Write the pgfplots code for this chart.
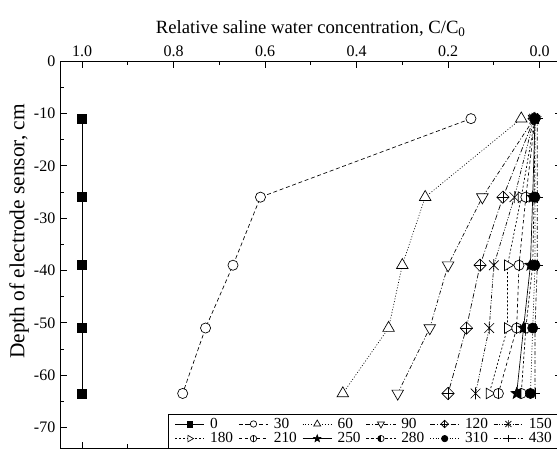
\documentclass[border=0pt]{standalone}
\usepackage{fontspec}
\setmainfont{Liberation Serif}
\usepackage{pgfplots}
\pgfplotsset{compat=1.18}
\usetikzlibrary{plotmarks}

% diamond with a cross inside
\pgfdeclareplotmark{dplus}{%
  \pgfpathmoveto{\pgfqpoint{0pt}{\pgfplotmarksize}}%
  \pgfpathlineto{\pgfqpoint{\pgfplotmarksize}{0pt}}%
  \pgfpathlineto{\pgfqpoint{0pt}{-\pgfplotmarksize}}%
  \pgfpathlineto{\pgfqpoint{-\pgfplotmarksize}{0pt}}%
  \pgfpathclose\pgfusepathqfillstroke
  \pgfpathmoveto{\pgfqpoint{0pt}{\pgfplotmarksize}}%
  \pgfpathlineto{\pgfqpoint{0pt}{-\pgfplotmarksize}}%
  \pgfpathmoveto{\pgfqpoint{\pgfplotmarksize}{0pt}}%
  \pgfpathlineto{\pgfqpoint{-\pgfplotmarksize}{0pt}}%
  \pgfusepathqstroke}
% X with a vertical bar
\pgfdeclareplotmark{xbar}{%
  \pgfpathmoveto{\pgfqpoint{-0.8\pgfplotmarksize}{-0.8\pgfplotmarksize}}%
  \pgfpathlineto{\pgfqpoint{0.8\pgfplotmarksize}{0.8\pgfplotmarksize}}%
  \pgfpathmoveto{\pgfqpoint{-0.8\pgfplotmarksize}{0.8\pgfplotmarksize}}%
  \pgfpathlineto{\pgfqpoint{0.8\pgfplotmarksize}{-0.8\pgfplotmarksize}}%
  \pgfpathmoveto{\pgfqpoint{0pt}{-\pgfplotmarksize}}%
  \pgfpathlineto{\pgfqpoint{0pt}{\pgfplotmarksize}}%
  \pgfusepathqstroke}
% circle with a vertical bar
\pgfdeclareplotmark{ophi}{%
  \pgfpathcircle{\pgfpointorigin}{\pgfplotmarksize}%
  \pgfusepathqfillstroke
  \pgfpathmoveto{\pgfqpoint{0pt}{-1.15\pgfplotmarksize}}%
  \pgfpathlineto{\pgfqpoint{0pt}{1.15\pgfplotmarksize}}%
  \pgfusepathqstroke}
% circle with the left half filled
\pgfdeclareplotmark{lhalf}{%
  \pgfpathcircle{\pgfpointorigin}{\pgfplotmarksize}%
  \pgfusepathqfillstroke
  \pgfscope
  \pgfsetfillcolor{black}%
  \pgfpathmoveto{\pgfqpoint{0pt}{\pgfplotmarksize}}%
  \pgfpatharc{90}{270}{\pgfplotmarksize}%
  \pgfpathclose\pgfusepathqfill
  \endpgfscope}
% filled five-pointed star
\pgfdeclareplotmark{fstar}{%
  \pgfpathmoveto{\pgfqpointpolar{90}{\pgfplotmarksize}}%
  \pgfpathlineto{\pgfqpointpolar{126}{0.42\pgfplotmarksize}}%
  \pgfpathlineto{\pgfqpointpolar{162}{\pgfplotmarksize}}%
  \pgfpathlineto{\pgfqpointpolar{198}{0.42\pgfplotmarksize}}%
  \pgfpathlineto{\pgfqpointpolar{234}{\pgfplotmarksize}}%
  \pgfpathlineto{\pgfqpointpolar{270}{0.42\pgfplotmarksize}}%
  \pgfpathlineto{\pgfqpointpolar{306}{\pgfplotmarksize}}%
  \pgfpathlineto{\pgfqpointpolar{342}{0.42\pgfplotmarksize}}%
  \pgfpathlineto{\pgfqpointpolar{18}{\pgfplotmarksize}}%
  \pgfpathlineto{\pgfqpointpolar{54}{0.42\pgfplotmarksize}}%
  \pgfpathclose\pgfusepathqfillstroke}

\pgfplotsset{
  s0/.style={solid, mark=square*, mark options={solid, fill=black}},
  s30/.style={dash pattern=on 3pt off 2pt, mark=*, mark options={solid, fill=white}},
  s60/.style={dash pattern=on 0.7pt off 1.4pt, mark=triangle*, mark options={solid, fill=white}},
  s90/.style={dash pattern=on 3pt off 1.5pt on 0.7pt off 1.5pt, mark=triangle*, mark options={solid, fill=white, rotate=180}},
  s120/.style={dash pattern=on 4pt off 1.5pt on 0.7pt off 1.5pt, mark=dplus, mark options={solid, fill=white}},
  s150/.style={dash pattern=on 3pt off 1.2pt on 0.7pt off 1.2pt on 0.7pt off 1.2pt, mark=xbar, mark options={solid, fill=white}},
  s180/.style={dash pattern=on 1.5pt off 1.5pt, mark=triangle*, mark options={solid, fill=white, rotate=-90}},
  s210/.style={dash pattern=on 2.5pt off 2pt, mark=ophi, mark options={solid, fill=white}},
  s250/.style={solid, mark=fstar, mark options={solid, fill=black}},
  s280/.style={dash pattern=on 2pt off 1.5pt, mark=lhalf, mark options={solid, fill=white}},
  s310/.style={dash pattern=on 0.7pt off 1.4pt, mark=*, mark options={solid, fill=black}},
  s430/.style={dash pattern=on 3pt off 1.5pt on 0.7pt off 1.5pt, mark=+, mark options={solid}},
}

\begin{document}
\begin{tikzpicture}
\begin{axis}[
  name=main,
  scale only axis,
  width=375.75pt, height=290.25pt,
  x dir=reverse,
  xmin=-0.048, xmax=1.048,
  ymin=-74, ymax=0,
  xtick={0,0.2,0.4,0.6,0.8,1},
  minor x tick num=1,
  ytick={-70,-60,-50,-40,-30,-20,-10,0},
  minor y tick num=1,
  xticklabel pos=upper,
  tick align=inside,
  major tick length=5pt, minor tick length=3pt,
  tick style={black, line width=0.6pt},
  axis line style={line width=0.8pt},
  /pgf/number format/assume math mode=true,
  xticklabel style={/pgf/number format/.cd, fixed, fixed zerofill, precision=1},
  tick label style={font=\fontsize{12}{14}\selectfont},
  xlabel={Relative saline water concentration, C/C\textsubscript{0}},
  ylabel={Depth of electrode sensor, cm},
  xlabel style={font=\fontsize{14}{16}\selectfont},
  ylabel style={font=\fontsize{16}{18}\selectfont, at={(ticklabel cs:0.56,-3pt)}},
  every axis plot/.append style={line width=0.5pt, black},
  legend columns=6,
  legend cell align=left,
  legend image code/.code={%
    \draw[mark repeat=2, mark phase=2, #1]
      plot coordinates {(0pt,0pt) (11pt,0pt) (22pt,0pt)};},
  legend style={
    at={(1,0)}, anchor=south east,
    draw=black, line width=0.6pt,
    font=\fontsize{11.5}{12}\selectfont,
    inner xsep=5pt, inner ysep=0.5pt, row sep=-2.2pt,
    /tikz/every even column/.append style={column sep=2pt},
    /tikz/every odd column/.append style={column sep=2pt},
  },
]

% elapsed time 0
\addplot[s0, mark size=3.4pt, forget plot] coordinates {
  (1.0,-11) (1.0,-26) (1.0,-39) (1.0,-51) (1.0,-63.5)};
% 30
\addplot[s30, mark size=3.8pt, forget plot] coordinates {
  (0.15,-11) (0.61,-26) (0.67,-39) (0.73,-51) (0.78,-63.5)};
% 60
\addplot[s60, mark size=5pt, forget plot] coordinates {
  (0.04,-11) (0.25,-26) (0.30,-39) (0.33,-51) (0.43,-63.5)};
% 90
\addplot[s90, mark size=5pt, forget plot] coordinates {
  (0.012,-11) (0.125,-26) (0.20,-39) (0.24,-51) (0.31,-63.5)};
% 120
\addplot[s120, mark size=4.6pt, forget plot] coordinates {
  (0.012,-11) (0.08,-26) (0.13,-39) (0.16,-51) (0.20,-63.5)};
% 150
\addplot[s150, mark size=4.5pt, forget plot] coordinates {
  (0.012,-11) (0.055,-26) (0.10,-39) (0.11,-51) (0.14,-63.5)};
% 180
\addplot[s180, mark size=4.6pt, forget plot] coordinates {
  (0.01,-11) (0.04,-26) (0.07,-39) (0.07,-51) (0.11,-63.5)};
% 210
\addplot[s210, mark size=3.8pt, forget plot] coordinates {
  (0.01,-11) (0.03,-26) (0.045,-39) (0.05,-51) (0.09,-63.5)};
% 250
\addplot[s250, mark size=4.5pt, forget plot] coordinates {
  (0.01,-11) (0.015,-26) (0.02,-39) (0.035,-51) (0.05,-63.5)};
% 280
\addplot[s280, mark size=3.8pt, forget plot] coordinates {
  (0.01,-11) (0.012,-26) (0.015,-39) (0.03,-51) (0.04,-63.5)};
% 310
\addplot[s310, mark size=3.8pt, forget plot] coordinates {
  (0.01,-11) (0.01,-26) (0.01,-39) (0.015,-51) (0.02,-63.5)};
% 430
\addplot[s430, mark size=4pt, forget plot] coordinates {
  (0.005,-11) (0.005,-26) (0.005,-39) (0.01,-51) (0.01,-63.5)};

% legend with smaller symbols
\addlegendimage{s0, line width=0.5pt, mark size=2.2pt}\addlegendentry{0}
\addlegendimage{s30, line width=0.5pt, mark size=2.4pt}\addlegendentry{30}
\addlegendimage{s60, line width=0.5pt, mark size=3pt}\addlegendentry{60}
\addlegendimage{s90, line width=0.5pt, mark size=3pt}\addlegendentry{90}
\addlegendimage{s120, line width=0.5pt, mark size=2.8pt}\addlegendentry{120}
\addlegendimage{s150, line width=0.5pt, mark size=2.8pt}\addlegendentry{150}
\addlegendimage{s180, line width=0.5pt, mark size=2.8pt}\addlegendentry{180}
\addlegendimage{s210, line width=0.5pt, mark size=2.4pt}\addlegendentry{210}
\addlegendimage{s250, line width=0.5pt, mark size=2.8pt}\addlegendentry{250}
\addlegendimage{s280, line width=0.5pt, mark size=2.4pt}\addlegendentry{280}
\addlegendimage{s310, line width=0.5pt, mark size=2.4pt}\addlegendentry{310}
\addlegendimage{s430, line width=0.5pt, mark size=2.6pt}\addlegendentry{430}
\end{axis}
\pgfresetboundingbox
\useasboundingbox ([xshift=-45pt, yshift=-1.5pt]main.south west)
  rectangle ([xshift=-3.4pt, yshift=45.75pt]main.north east);
\end{tikzpicture}
\end{document}
